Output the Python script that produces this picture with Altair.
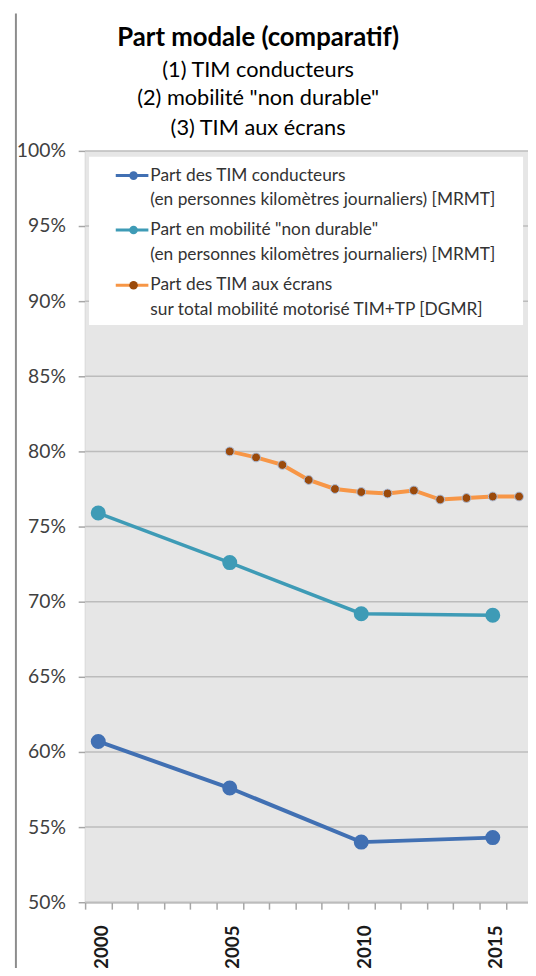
import altair as alt
import pandas as pd

# ---------------- data ----------------
years_mrmt = [2000, 2005, 2010, 2015]
tim_conducteurs = [60.7, 57.6, 54.0, 54.3]
non_durable = [75.9, 72.6, 69.2, 69.1]

years_dgmr = [2005, 2006, 2007, 2008, 2009, 2010, 2011, 2012, 2013, 2014, 2015, 2016]
tim_ecrans = [80.0, 79.6, 79.1, 78.1, 77.5, 77.3, 77.2, 77.4, 76.8, 76.9, 77.0, 77.0]

y_ticks = [50, 55, 60, 65, 70, 75, 80, 85, 90, 95, 100]
x_tick_bounds = [1999.5, 2000.5, 2001.5, 2002.5, 2003.5, 2004.5, 2005.5, 2006.5,
                 2007.5, 2008.5, 2009.5, 2010.5, 2011.5, 2012.5, 2013.5, 2014.5, 2015.5]

legend_labels = [
    "Part des TIM conducteurs\n(en personnes kilomètres journaliers) [MRMT]",
    "Part en mobilité \"non durable\"\n(en personnes kilomètres journaliers) [MRMT]",
    "Part des TIM  aux écrans\nsur total mobilité motorisé TIM+TP [DGMR]",
]
title_text = "Part modale (comparatif)"
subtitle_lines = ["(1) TIM conducteurs", "(2) mobilité \"non durable\"", "(3) TIM aux écrans"]

FONT = "Lato"
BLUE = "#4170b3"
TEAL = "#3e9bb6"
ORANGE = "#f79646"
BROWN = "#9b4a0b"

W, H = 448, 760

df_cond = pd.DataFrame({"year": years_mrmt, "value": tim_conducteurs})
df_nd = pd.DataFrame({"year": years_mrmt, "value": non_durable})
df_ecr = pd.DataFrame({"year": years_dgmr, "value": tim_ecrans})
df_grid = pd.DataFrame({"value": y_ticks})

x_scale = alt.Scale(domain=[1999.5, 2016.34], nice=False, zero=False)
y_scale = alt.Scale(domain=[50, 100], nice=False, zero=False)

x_enc = alt.X(
    "year:Q",
    scale=x_scale,
    axis=alt.Axis(
        values=x_tick_bounds,
        title=None,
        grid=False,
        domainColor="#a6a6a6",
        domainWidth=1.5,
        tickColor="#a6a6a6",
        tickWidth=1.5,
        tickSize=7,
        labelExpr="(datum.value + 0.5) % 5 == 0 ? '' + (datum.value + 0.5) : ''",
        labelAngle=270,
        labelOffset=16.5,
        labelPadding=16,
        labelFont=FONT,
        labelFontSize=19,
        labelFontWeight="bold",
        labelColor="#1a1a1a",
        labelOverlap=False,
        labelBound=False,
        labelFlush=False,
    ),
)
y_enc = alt.Y(
    "value:Q",
    scale=y_scale,
    axis=alt.Axis(
        values=y_ticks,
        title=None,
        grid=False,
        domainColor="#a6a6a6",
        domainWidth=1.5,
        tickColor="#a6a6a6",
        tickWidth=1.5,
        tickSize=7,
        labelPadding=13,
        labelExpr="datum.value + '%'",
        labelFont=FONT,
        labelFontSize=19.5,
        labelColor="#404040",
    ),
)

one = pd.DataFrame({"k": [0]})
layers = []

# plot-area background
layers.append(
    alt.Chart(one).mark_rect(fill="#e6e6e6").encode(
        x=alt.value(0), x2=alt.value(W), y=alt.value(0), y2=alt.value(H)
    )
)
# horizontal grid lines (same y scale/axis as the data)
layers.append(
    alt.Chart(df_grid).mark_rule(color="#bcbcbc", strokeWidth=1.5).encode(
        y=y_enc, x=alt.value(0), x2=alt.value(W)
    )
)


def series(df, color, width, dot_color, dot_size, dot_stroke=None):
    line = alt.Chart(df).mark_line(color=color, strokeWidth=width).encode(x=x_enc, y=y_enc)
    pkw = dict(filled=True, color=dot_color, size=dot_size, opacity=1)
    if dot_stroke:
        pkw.update(stroke=dot_stroke, strokeWidth=1)
    pts = alt.Chart(df).mark_point(**pkw).encode(x=x_enc, y=y_enc)
    return [line, pts]


layers += series(df_cond, BLUE, 4, BLUE, 230)
layers += series(df_nd, TEAL, 3.5, TEAL, 230)
layers += series(df_ecr, ORANGE, 4, BROWN, 80, "#a9bfe0")

# ---------------- legend (drawn inside the plot) ----------------
layers.append(
    alt.Chart(one).mark_rect(fill="white").encode(
        x=alt.value(4), x2=alt.value(443), y=alt.value(6), y2=alt.value(176)
    )
)
leg_specs = [(BLUE, BLUE), (TEAL, TEAL), (ORANGE, BROWN)]
row_y = [25, 80, 136]
for (lc, dc), yy, lab in zip(leg_specs, row_y, legend_labels):
    layers.append(
        alt.Chart(one).mark_rule(color=lc, strokeWidth=3).encode(
            x=alt.value(31), x2=alt.value(64), y=alt.value(yy)
        )
    )
    layers.append(
        alt.Chart(one).mark_point(filled=True, color=dc, size=75, opacity=1).encode(
            x=alt.value(49), y=alt.value(yy)
        )
    )
    layers.append(
        alt.Chart(pd.DataFrame({"label": [lab]})).mark_text(
            align="left", baseline="middle", lineBreak="\n", lineHeight=25,
            font=FONT, fontSize=17.5, color="#333333"
        ).encode(x=alt.value(66), y=alt.value(yy), text="label:N")
    )

# ---------------- title as text marks ----------------
layers.append(
    alt.Chart(pd.DataFrame({"t": [title_text]})).mark_text(
        align="center", baseline="middle", font=FONT, fontSize=26,
        fontWeight="bold", color="black"
    ).encode(x=alt.value(175), y=alt.value(-114), text="t:N")
)
sub_y = [-82, -53, -23]
for s, yy in zip(subtitle_lines, sub_y):
    layers.append(
        alt.Chart(pd.DataFrame({"t": [s]})).mark_text(
            align="center", baseline="middle", font=FONT, fontSize=22, color="black"
        ).encode(x=alt.value(175), y=alt.value(yy), text="t:N")
    )

# left frame line of the chart area
layers.append(
    alt.Chart(one).mark_rule(color="#8c8c8c", strokeWidth=2).encode(
        x=alt.value(-70), y=alt.value(-139), y2=alt.value(830)
    )
)

chart = (
    alt.layer(*layers)
    .properties(
        width=W,
        height=H,
        autosize=alt.AutoSizeParams(type="none"),
        padding={"left": 78, "top": 139, "right": 0, "bottom": 61},
    )
    .configure_view(strokeWidth=0)
    .configure(background="white")
)

chart.save("out.html", embed_options={"renderer": "svg", "actions": False})
